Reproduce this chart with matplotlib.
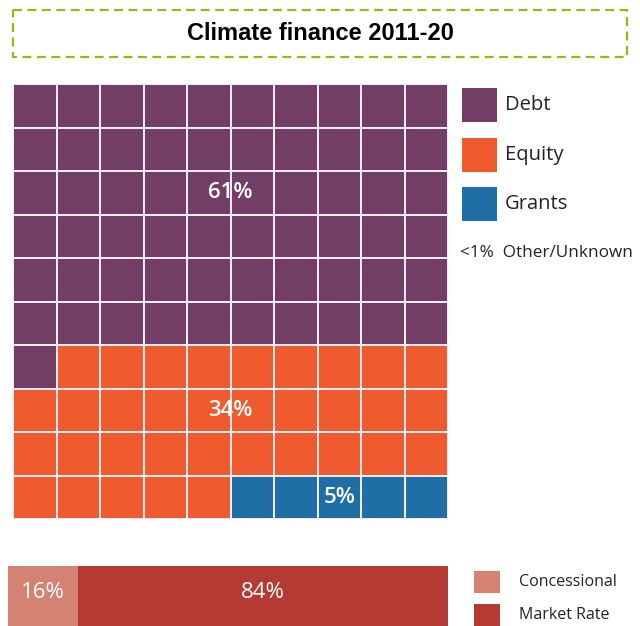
import matplotlib
matplotlib.use("Agg")
import matplotlib.pyplot as plt
from matplotlib.patches import Rectangle

# ---- data ----
title = "Climate finance 2011-20"
categories = ["Debt", "Equity", "Grants"]
shares = [61, 34, 5]
share_labels = ["61%", "34%", "5%"]
other_label = "<1%  Other/Unknown"
rate_categories = ["Concessional", "Market Rate"]
rate_shares = [16, 84]
rate_labels = ["16%", "84%"]

colors = {"Debt": "#733e65", "Equity": "#ef5a2f", "Grants": "#1f6fa6"}
rate_colors = {"Concessional": "#d48373", "Market Rate": "#b63a34"}

W, H = 640, 626
fig = plt.figure(figsize=(W / 100, H / 100), dpi=100)

def fr(x0, y0, x1, y1):
    # pixel box (top-left origin) -> figure fraction rect
    return [x0 / W, 1 - y1 / H, (x1 - x0) / W, (y1 - y0) / H]

body_font = ["Open Sans", "DejaVu Sans"]

# ---- waffle ----
ncols, nrows = 10, 10
ax = fig.add_axes(fr(13, 84, 448, 519))
ax.set_xlim(0, ncols)
ax.set_ylim(nrows, 0)
ax.axis("off")
cell_cat = []
for cat, n in zip(categories, shares):
    cell_cat += [cat] * n
for i, cat in enumerate(cell_cat):
    r, c = divmod(i, ncols)
    ax.add_patch(Rectangle((c, r), 1, 1, facecolor=colors[cat],
                           edgecolor="#f6eef2", linewidth=1.4))
label_pos = {"Debt": (5, 2.5), "Equity": (5, 7.5), "Grants": (7.5, 9.5)}
for cat, lab in zip(categories, share_labels):
    x, y = label_pos[cat]
    ax.text(x, y, lab, color="white", fontsize=16, fontweight="semibold",
            ha="center", va="center", family=body_font)

# ---- stacked bar ----
bx = fig.add_axes(fr(8, 566, 448, 626))
left = 0
for cat, v, lab in zip(rate_categories, rate_shares, rate_labels):
    bx.barh(0, v, left=left, height=1, color=rate_colors[cat], edgecolor="none")
    bx.text(left + v / 2, 0.05, lab, color="white", fontsize=16, ha="center",
            va="center", family=body_font)
    left += v
bx.set_xlim(0, sum(rate_shares))
bx.set_ylim(-0.5, 0.5)
bx.axis("off")

# ---- overlay for title and legends ----
ov = fig.add_axes([0, 0, 1, 1])
ov.set_xlim(0, W)
ov.set_ylim(H, 0)
ov.axis("off")
ov.add_patch(Rectangle((13, 10), 614, 47, facecolor="none", edgecolor="#9fb21a",
                       linewidth=1.6, linestyle=(0, (4, 2.5))))
ov.text(320, 34, title, fontsize=17, fontweight="bold", ha="center", va="center",
        family=["Liberation Sans", "DejaVu Sans"])

leg_y = [105, 155, 204]
for cat, y in zip(categories, leg_y):
    ov.add_patch(Rectangle((462, y - 17), 35, 34, facecolor=colors[cat],
                           edgecolor="none"))
    ov.text(505, y, cat, fontsize=14.5, ha="left", va="center", family=body_font,
            color="#222222")
ov.text(460, 253, other_label, fontsize=12.3, ha="left", va="center",
        family=body_font, color="#222222")

rleg_y = [582, 615]
for cat, y in zip(rate_categories, rleg_y):
    ov.add_patch(Rectangle((474, y - 11), 26, 22, facecolor=rate_colors[cat],
                           edgecolor="none"))
    ov.text(519, y, cat, fontsize=11.5, ha="left", va="center", family=body_font,
            color="#222222")

fig.savefig("out.png", dpi=100)
